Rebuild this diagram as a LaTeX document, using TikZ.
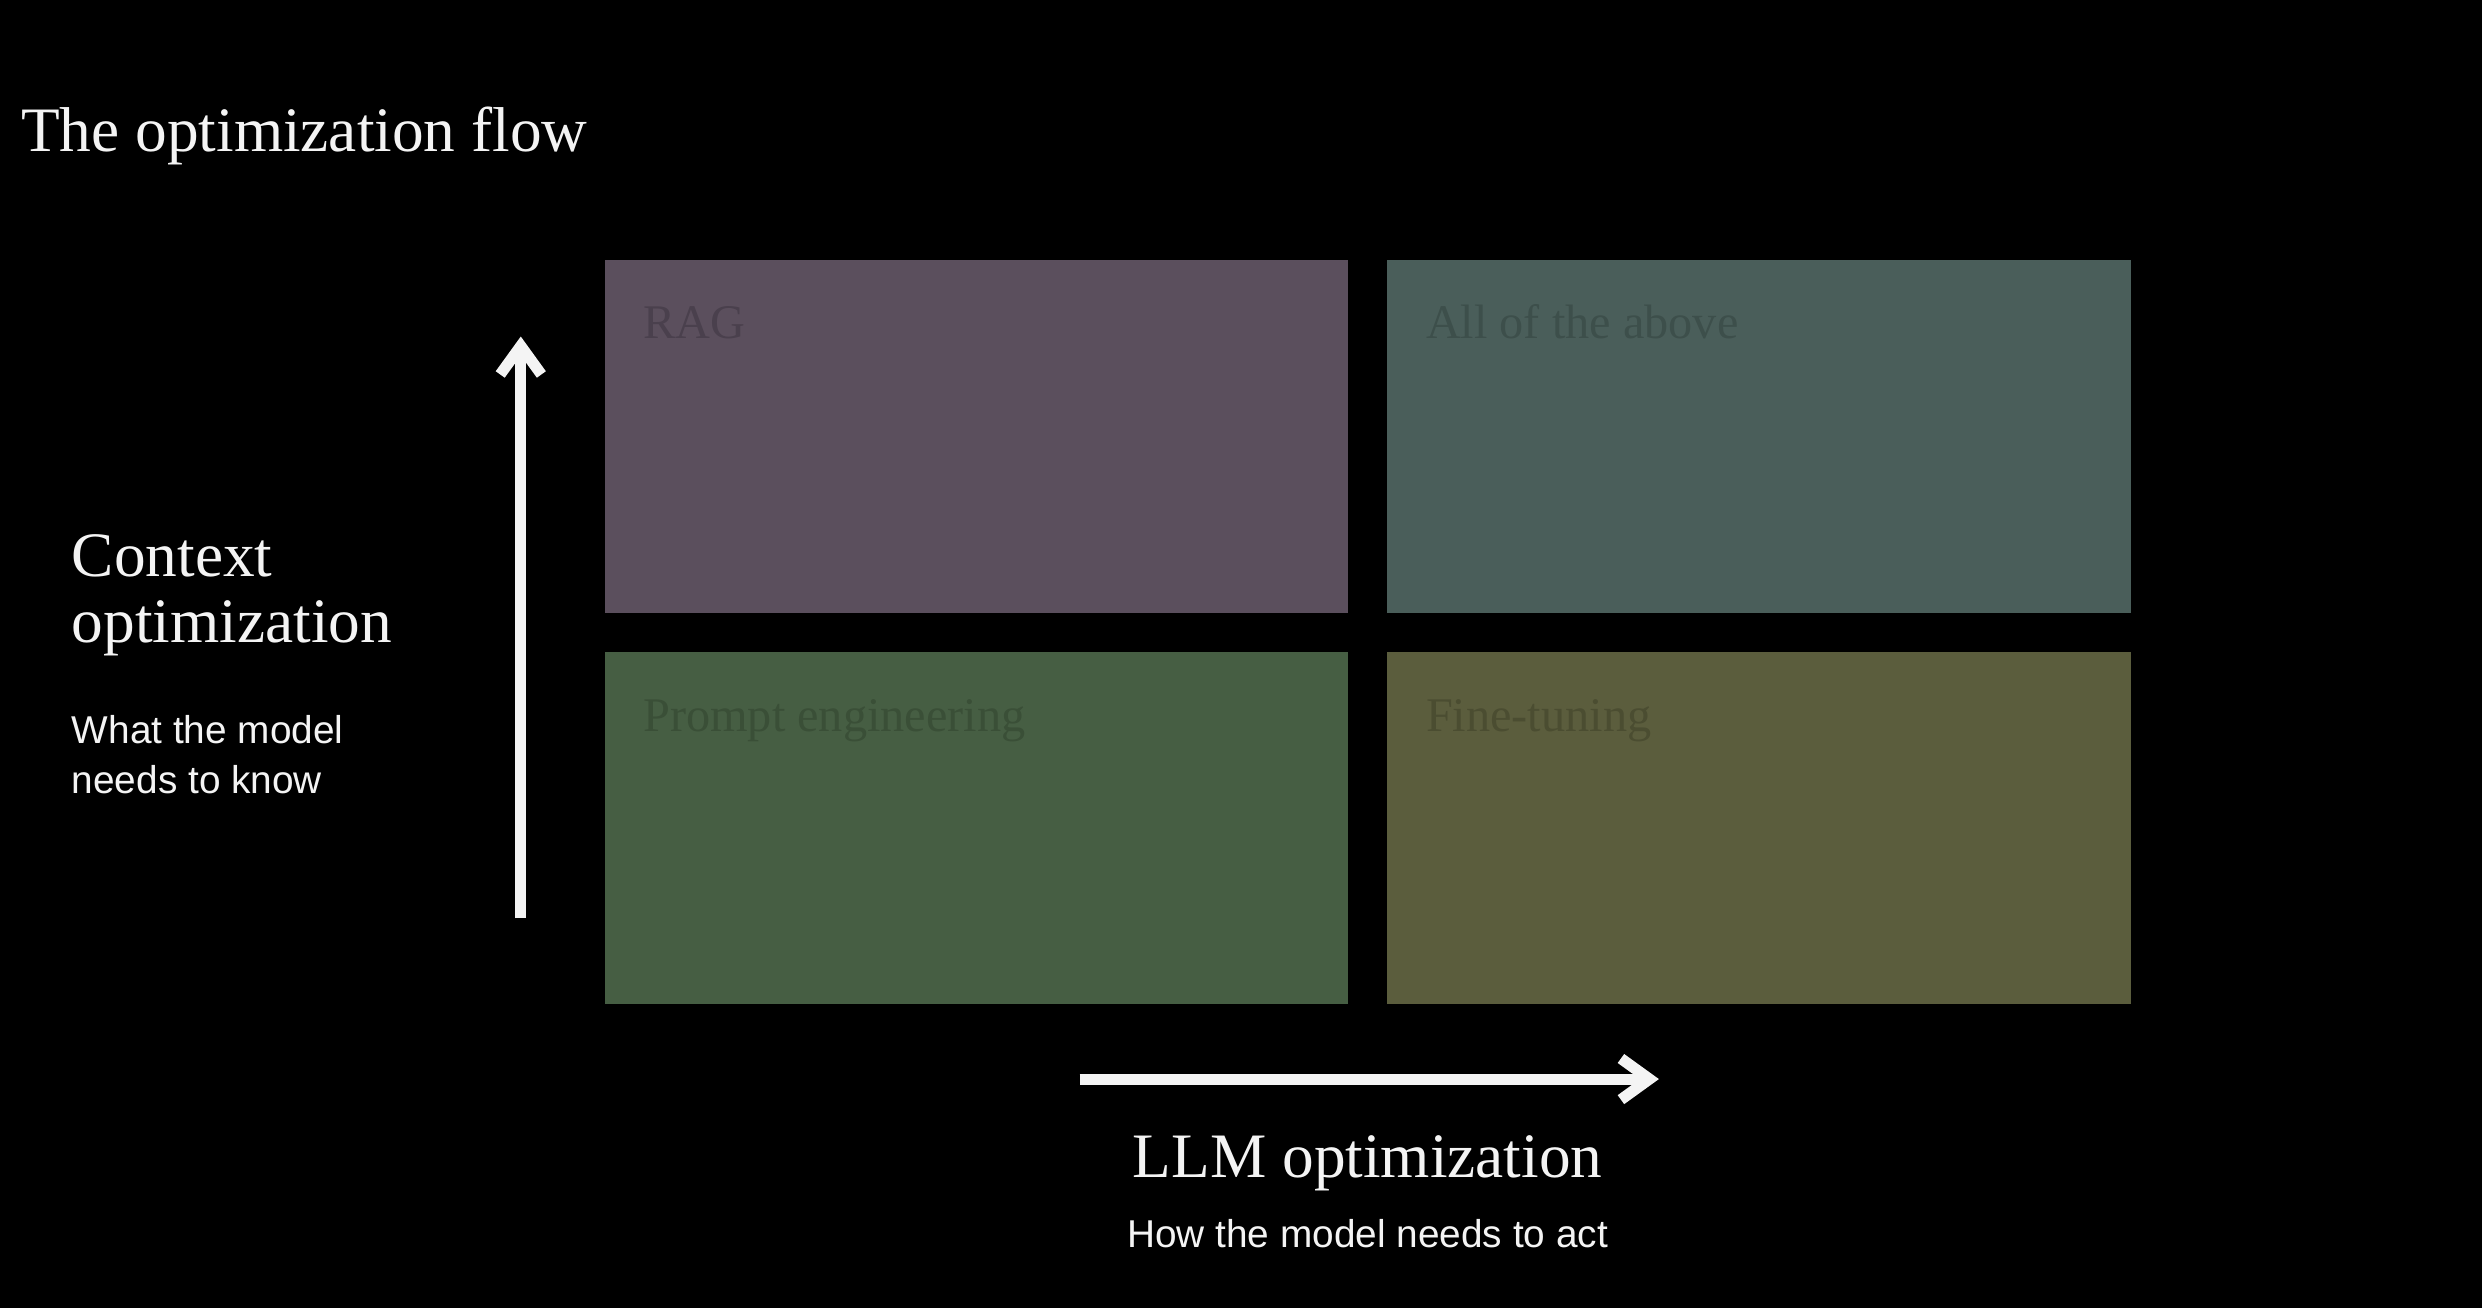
\documentclass[tikz,border=0pt]{standalone}
\usepackage{fontspec}
\setmainfont{Liberation Serif}
\setsansfont{Liberation Sans}
\usetikzlibrary{positioning,arrows.meta}
\definecolor{ragc}{HTML}{5B4F5D}
\definecolor{ragt}{HTML}{4A404D}
\definecolor{allc}{HTML}{4A5E5A}
\definecolor{allt}{HTML}{3D4F4B}
\definecolor{promptc}{HTML}{465E43}
\definecolor{promptt}{HTML}{3A4F37}
\definecolor{finec}{HTML}{5B5D3D}
\definecolor{finet}{HTML}{4B4D31}
\definecolor{ink}{HTML}{F4F4F4}
\begin{document}
\begin{tikzpicture}[x=.5pt, y=.5pt, >={Straight Barb[length=9pt,width=13pt]},
    node distance=12.5pt,
    cell/.style={minimum width=234.75pt, minimum height=111.25pt, inner sep=0pt, outer sep=0pt},
    celltxt/.style={anchor=base west, inner sep=0pt, font=\fontsize{15.25}{18}\selectfont},
    head/.style={anchor=base west, inner sep=0pt, align=left, text=ink, font=\fontsize{20}{20.85}\selectfont},
    sub/.style={anchor=base west, inner sep=0pt, align=left, text=ink, font=\sffamily\fontsize{12.25}{15.75}\selectfont},
    axis/.style={->, ink, line width=3.5pt}]
\useasboundingbox (0,0) rectangle (1568,826);
\fill[black] (-6,-6) rectangle (1574,832);
\node[head] (title) at (13,730) {The optimization flow};

% the four quadrants
\node[cell, fill=ragc, anchor=north west] (rag) at (382,661.5) {};
\node[cell, fill=allc, right=of rag] (all) {};
\node[cell, fill=promptc, below=of rag] (prompt) {};
\node[cell, fill=finec, right=of prompt] (fine) {};
\node[celltxt, text=ragt] (ragtxt) at ([shift={(24,-49.5)}]rag.north west) {RAG};
\node[celltxt, text=allt] (alltxt) at ([shift={(24,-49.5)}]all.north west) {All of the above};
\node[celltxt, text=promptt] (prompttxt) at ([shift={(24,-50)}]prompt.north west) {Prompt engineering};
\node[celltxt, text=finet] (finetxt) at ([shift={(24,-50)}]fine.north west) {Fine-tuning};

% axes
\coordinate (vlo) at (329,246);
\coordinate (vhi) at (329,613.4);
\draw[axis] (vlo)--(vhi);
\coordinate (hlo) at (682,144.3);
\coordinate (hhi) at (1048,144.3);
\draw[axis] (hlo)--(hhi);

\node[head] (ctx) at (45,420) {Context\\optimization};
\node[sub] (ctxsub) at (45,325) {What the model\\needs to know};
\node[head, anchor=base] (llm) at (864,82) {LLM optimization};
\node[sub, anchor=base] (llmsub) at (864,38) {How the model needs to act};
\end{tikzpicture}
\end{document}
